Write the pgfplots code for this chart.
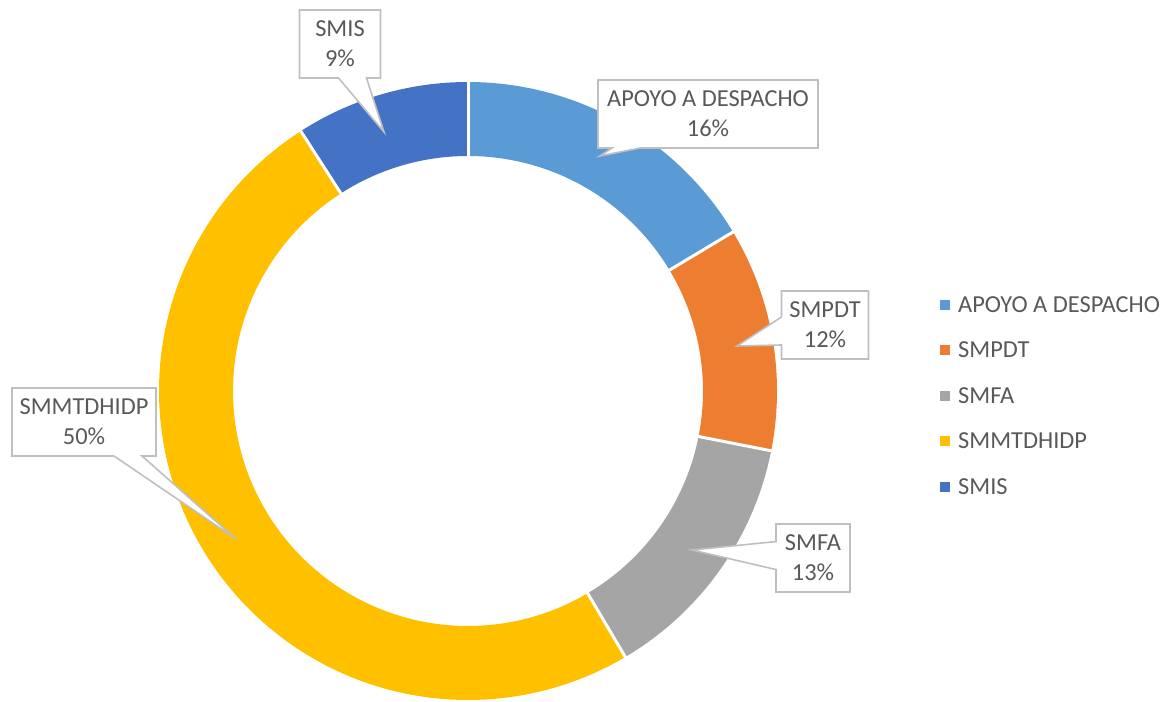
\documentclass[border=0pt]{standalone}
\usepackage{fontspec}
\setmainfont{Carlito}
\usepackage{pgfplots}
\pgfplotsset{compat=1.18}
\usetikzlibrary{shapes.callouts}

\definecolor{cApoyo}{HTML}{5B9BD5}
\definecolor{cSmpdt}{HTML}{ED7D31}
\definecolor{cSmfa}{HTML}{A5A5A5}
\definecolor{cSmmt}{HTML}{FFC000}
\definecolor{cSmis}{HTML}{4472C4}
\definecolor{txt}{HTML}{595959}
\definecolor{boxline}{HTML}{BFBFBF}

% shares in percent (labels are rounded)
\def\vA{16.4}\def\vB{11.7}\def\vC{13.4}\def\vD{49.4}\def\vE{9.1}
% ring in pixel units: centre and mid radius
\def\cx{468}\def\cy{311}\def\rmid{272}

\pgfmathsetmacro\aA{90}
\pgfmathsetmacro\aB{\aA-3.6*\vA}
\pgfmathsetmacro\aC{\aB-3.6*\vB}
\pgfmathsetmacro\aD{\aC-3.6*\vC}
\pgfmathsetmacro\aE{\aD-3.6*\vD}
\pgfmathsetmacro\aF{\aE-3.6*\vE}

\tikzset{callbox/.style={rectangle callout, draw=boxline, line width=1.6bp, fill=white,
    text=txt, align=center, font=\fontsize{24.5}{30}\selectfont,
    minimum height=68bp, inner xsep=4bp, inner ysep=3bp,
    callout pointer width=28bp}}

\begin{document}
\begin{tikzpicture}
\begin{axis}[
  hide axis, scale only axis, clip=false,
  width=1166bp, height=702bp,
  xmin=0, xmax=1166, ymin=0, ymax=702,
  every axis plot/.append style={line cap=butt, samples=90, smooth},
  legend style={at={(axis cs:937,408)}, anchor=north west, draw=none, fill=none,
    font=\fontsize{24.5}{28}\selectfont, text=txt, row sep=24.5bp,
    nodes={inner sep=0pt, text height=16bp, text depth=5bp}},
  legend cell align=left,
  legend image code/.code={\fill[#1, draw=none] (0bp,-3bp) rectangle (10bp,7bp);},
  every axis legend/.append style={column sep=8bp},
]
\addplot[color=cApoyo, line width=74bp, domain=\aA:\aB] ({\cx+\rmid*cos(x)},{\cy+\rmid*sin(x)});
\addplot[color=cSmpdt, line width=74bp, domain=\aB:\aC] ({\cx+\rmid*cos(x)},{\cy+\rmid*sin(x)});
\addplot[color=cSmfa, line width=74bp, domain=\aC:\aD] ({\cx+\rmid*cos(x)},{\cy+\rmid*sin(x)});
\addplot[color=cSmmt, line width=74bp, domain=\aD:\aE] ({\cx+\rmid*cos(x)},{\cy+\rmid*sin(x)});
\addplot[color=cSmis, line width=74bp, domain=\aE:\aF] ({\cx+\rmid*cos(x)},{\cy+\rmid*sin(x)});
\legend{APOYO A DESPACHO, SMPDT, SMFA, SMMTDHIDP, SMIS}

% white gaps between slices
\foreach \a in {\aA,\aB,\aC,\aD,\aE}{
  \addplot[forget plot, white, line width=3bp, domain=230:314, samples=2, smooth=false]
    ({\cx+x*cos(\a)},{\cy+x*sin(\a)});
}

% data labels
\node[callbox, minimum width=81bp, callout absolute pointer={(axis cs:384,570)}]
  at (axis cs:340,658) {SMIS\\9\%};
\node[callbox, minimum width=220bp, callout absolute pointer={(axis cs:600,546)}]
  at (axis cs:708,588) {APOYO A DESPACHO\\16\%};
\node[callbox, minimum width=87bp, callout absolute pointer={(axis cs:737,356)}]
  at (axis cs:825,377) {SMPDT\\12\%};
\node[callbox, minimum width=74bp, callout absolute pointer={(axis cs:692,152)}]
  at (axis cs:813,144) {SMFA\\13\%};
\node[callbox, minimum width=144bp, callout absolute pointer={(axis cs:236,163)}]
  at (axis cs:84,280) {SMMTDHIDP\\50\%};

\path (axis cs:0,0) rectangle (axis cs:1166,702);
\end{axis}
\end{tikzpicture}
\end{document}
